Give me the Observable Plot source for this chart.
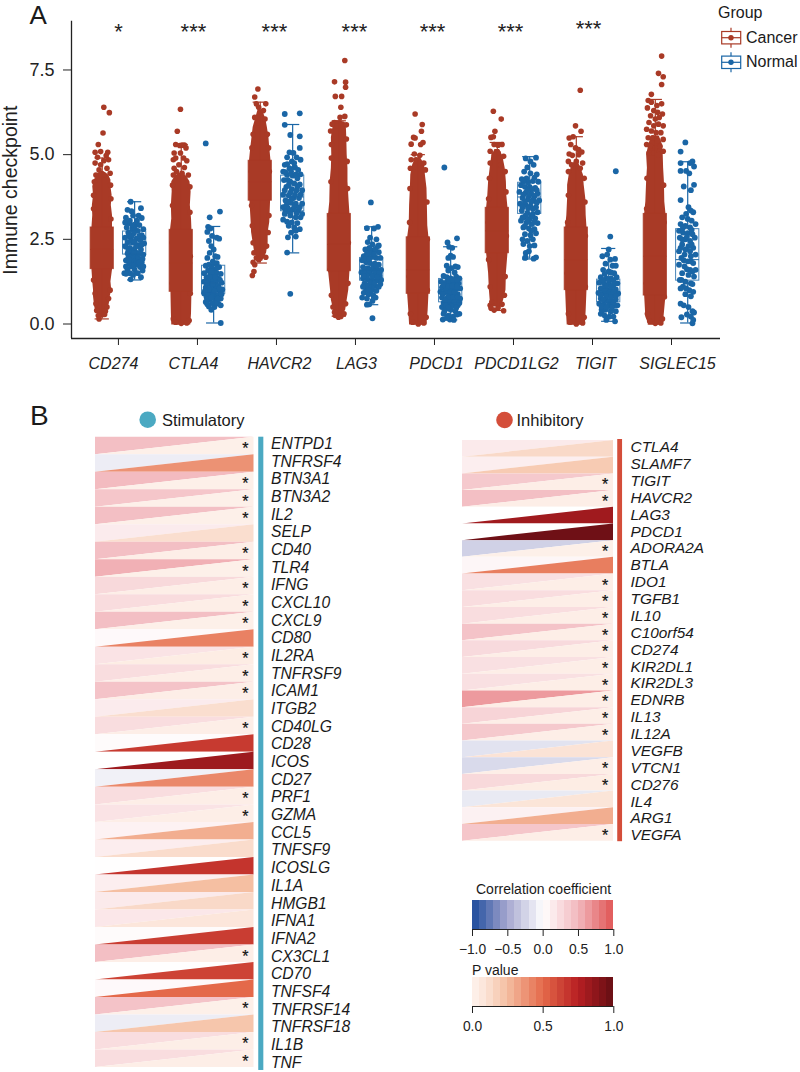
<!DOCTYPE html>
<html>
<head>
<meta charset="utf-8">
<script src="https://cdn.jsdelivr.net/npm/d3@7"></script>
<script src="https://cdn.jsdelivr.net/npm/@observablehq/plot@0.6"></script>
<style>
html,body{margin:0;padding:0;background:#fff;}
#page{position:relative;width:800px;height:1072px;overflow:hidden;font-family:"Liberation Sans",Arial,sans-serif;color:#1a1a1a;}
#page>svg,#page>div.p{position:absolute;}
.t{position:absolute;white-space:nowrap;line-height:1;}
</style>
</head>
<body>
<div id="page">
  <div class="t" style="left:29.5px;top:1.6px;font-size:26px;">A</div>
  <div class="t" style="left:30px;top:402px;font-size:28px;">B</div>
  <div class="t" style="left:718px;top:5px;font-size:16px;">Group</div>
  <div class="t" style="left:746px;top:29.5px;font-size:16px;">Cancer</div>
  <div class="t" style="left:746px;top:54px;font-size:16px;">Normal</div>
  <svg style="left:715px;top:22px" width="30" height="52" id="keys"></svg>
  <svg style="left:137px;top:409px" width="22" height="22"><circle cx="10.7" cy="10.7" r="8.3" fill="#4ba9c2"/></svg>
  <div class="t" style="left:162px;top:411.5px;font-size:16.5px;">Stimulatory</div>
  <svg style="left:494px;top:409px" width="22" height="22"><circle cx="10.5" cy="11" r="8.3" fill="#d44e3a"/></svg>
  <div class="t" style="left:516.5px;top:412px;font-size:16.5px;">Inhibitory</div>
  <div class="t" style="left:476px;top:882px;font-size:14px;">Correlation coefficient</div>
  <div class="t" style="left:472px;top:963px;font-size:14px;">P value</div>
</div>
<script>
const genes = ["CD274","CTLA4","HAVCR2","LAG3","PDCD1","PDCD1LG2","TIGIT","SIGLEC15"];
const geneStars = ["*","***","***","***","***","***","***",""];
const labelNudge = [-5,-4,3,1,2,3,3,6];
const starNudge = [0,-4,-2,-1,-2,-3,-4,0];

// Box statistics: [low whisker, Q1, median, Q3, high whisker]
const boxCancer = [[0.15,1.62,2.2,2.85,4.9],[0,0.95,1.8,2.78,5.3],[1.8,3.64,4.2,4.82,6.55],[0.23,1.56,2.35,3.25,6.0],[0,0.89,1.6,2.56,5.0],[0.4,2.09,2.75,3.43,5.36],[0,1.0,1.9,2.85,5.53],[0,0.84,2.0,3.25,6.63]];
const boxNormal = [[1.3,2.05,2.35,2.73,3.61],[0.03,0.89,1.2,1.72,2.88],[2.1,3.33,3.75,4.38,5.89],[0.57,1.28,1.6,1.95,2.87],[0.12,0.64,1.0,1.33,2.28],[1.92,3.25,3.75,4.17,4.94],[0.08,0.64,0.95,1.31,2.23],[0.03,1.28,1.9,2.8,4.79]];

// Saturated core of each cancer cloud, too dense to read single points:
// [value, left half width, right half width], widths in hundredths of a category step
const coreCD274 = [[0.18,2,2],[0.3,6,5],[0.45,9,7],[0.6,10,9],[0.8,11,10],[1,11,12],[1.25,12,11],[1.6,13,13],[2.85,13,13],[3.2,12,13],[3.5,12.5,11.5],[3.8,11,12.5],[4.05,12,11],[4.25,10,11],[4.4,6,8],[4.5,3,2]];
const coreCTLA4 = [[-0.03,12,12],[0.3,12.5,13],[0.9,13,13.5],[2.8,13.5,13.5],[3.1,12,13],[3.5,12.5,11.5],[3.9,11.5,12.5],[4.2,12,11],[4.35,8,7],[4.45,3,3]];
const coreHAVCR2 = [[1.85,3,3],[2.1,7,8],[2.4,9,10],[2.7,11,10],[3.0,11.5,12],[3.6,13,13],[4.85,13.5,13.5],[5.2,12,12],[5.5,10.5,11],[5.8,9,9],[6.05,6,7],[6.3,3,3]];
const coreLAG3 = [[0.25,3,3],[0.4,7,8],[0.7,10,10],[1.0,11,12],[1.55,13.5,13.5],[3.25,13.5,13.5],[3.6,12,12.5],[4.2,11.5,11],[4.6,10,11],[5.0,9.5,10],[5.5,10,9.5],[5.8,8,9],[6.0,4,3]];
const corePDCD1 = [[-0.03,11,11],[0.4,12,12.5],[0.9,13.5,13.5],[2.55,13.5,13.5],[2.9,11.5,12],[3.5,11,11.5],[4,10,11],[4.4,9.5,9],[4.7,7,8],[4.9,3,3]];
const corePDCD1LG2 = [[0.5,5,5],[0.7,9,8],[1,10,11],[1.5,11,11.5],[2.08,13.5,13.5],[3.43,13.5,13.5],[3.8,12,12],[4.2,11,11.5],[4.6,9,10],[4.95,7,7],[5.15,3,3]];
const coreTIGIT = [[-0.03,11.5,11.5],[0.4,12.5,12.5],[1,13.5,13.5],[2.85,13.5,13.5],[3.2,12,12.5],[3.7,11,12],[4.1,11,10],[4.4,9,9],[4.65,6,5],[4.8,2,2]];
const coreSIGLEC15 = [[-0.03,8,8],[0.2,12,11],[0.84,13.5,13.5],[3.25,13.5,13.5],[3.6,12,12],[4.2,11,11.5],[4.6,10,10.5],[5.0,11,10],[5.3,8,9],[5.55,5,5]];

// Individually readable cancer points: [jitter in hundredths of a step, value]
const dotsCD274C = [[2,6.4],[9,6.24],[1,5.64],[-5,5.3],[-9,5.07],[-2,5.09],[7,5.07],[5,4.97],[-6,4.92],[2,4.82],[8,4.85],[-9,4.75],[-2,4.7],[6,4.6],[-4,4.55],[10,4.45],[-8,4.4],[-10,4.2],[10.5,4.1],[2,4.4],[-11,3.8],[11,3.7],[-11,3.4],[11,3.1],[-11,1.3],[10,1.0],[-9,0.9],[8,0.75],[-8,0.6],[6,0.5],[-7,0.4],[4,0.38],[-5,0.25],[-4,0.15],[3,0.28]];
const dotsCTLA4C = [[-1,6.34],[-5,5.69],[-7,5.3],[4,5.28],[-2,5.27],[1,5.28],[-9,5.05],[-1,5.05],[6,5.2],[-10,4.85],[3,4.9],[7,4.82],[-7,4.9],[-9,4.6],[-3,4.7],[4,4.62],[-6,4.5],[-10,4.4],[1,4.45],[9,4.4],[-11,4.1],[11,4.05],[-11,3.5],[11,3.3],[-11.5,2.4],[11.5,2.0],[-11.5,1.2],[11.5,0.9],[-10,0.15],[-7,0.05],[0,0.02],[7,0.03],[10,0.1]];
const dotsHAVCR2C = [[-3,6.94],[-7,6.7],[7,6.5],[-5,6.5],[-2,6.4],[4,6.3],[-7,6.1],[-3,5.95],[6,6.05],[-9,5.6],[9,5.6],[-10.5,5.2],[10.5,5.2],[-11.5,4.5],[11.5,4.5],[-11,3.5],[11,3.2],[-10,2.9],[10,2.7],[-9,2.4],[8,2.3],[-8,2.1],[-5,1.95],[7,1.97],[-9,1.82],[-7,1.75],[-2,1.9],[-8,1.55],[-10,1.43]];
const dotsLAG3C = [[7,7.78],[-6,7.15],[8,7.14],[8,6.99],[-5,6.72],[3,6.72],[2,6.4],[7,6.13],[1,6.1],[-6,5.95],[-9,5.9],[-2,5.85],[4,5.9],[9,5.88],[-11,5.7],[9,5.46],[-10,5.3],[-10,4.9],[10,4.8],[-10.5,4.2],[10.5,4.0],[-11.5,3.2],[11.5,2.4],[-11.5,1.6],[11,1.2],[-10,0.85],[-8,0.5],[8,0.6],[-6,0.35],[2,0.22],[-5,0.25],[6,0.3],[-1,0.2]];
const dotsPDCD1C = [[-4,6.2],[5,5.89],[4,5.69],[-6,5.51],[-4,5.49],[-9,5.31],[6,5.36],[3,5.3],[-5,5.02],[2,4.98],[-9,4.85],[7,4.75],[-3,4.85],[-10,4.6],[4,4.6],[9,4.55],[-4,4.65],[-10.5,4],[11,3.6],[-11,3],[11.5,2.5],[-11.5,1.4],[11.5,1],[-10,0.3],[-7,0.05],[0,0],[7,0.03],[10,0.2]];
const dotsPDCD1LG2C = [[-5,6.28],[5,6.05],[-3,5.69],[-8,5.51],[-5,5.53],[-4,5.3],[6,5.3],[1,5.28],[-9,5.1],[1,5.05],[8,4.95],[-4,5.0],[-9,4.75],[4,4.7],[10,4.5],[-10,4.3],[11,3.9],[-11,3.7],[-11.5,3],[11.5,2.6],[-11,1.9],[10,1.4],[-9,1.1],[9,0.85],[-9,0.55],[-8,0.47],[-4,0.41],[8,0.39],[1,0.48],[-7,0.65],[6,0.58]];
const dotsTIGITC = [[5,6.9],[-1,5.85],[6,5.69],[-4,5.53],[-9,5.49],[-7,5.3],[-1,5.2],[7,5.08],[3,5.15],[-9,5.02],[3,5.0],[-5,4.98],[-10,4.8],[8,4.75],[0,4.8],[-6,4.7],[5,4.6],[-10,4.5],[10,4.3],[-10,3.8],[11,3.6],[-11,3],[11.5,2.6],[-11.5,1.5],[11.5,1.1],[-10,0.3],[-8,0.05],[0,0],[8,0.03],[10,0.2]];
const dotsSIGLEC15C = [[8,7.91],[4,7.4],[10,7.3],[8,7.07],[-5,6.78],[-9,6.6],[-5,6.55],[2,6.45],[8,6.5],[-10,6.38],[-2,6.3],[3,6.25],[9,6.2],[-6,6.15],[0,6.05],[5,6.1],[-8,5.95],[-2,5.85],[4,5.9],[10,5.85],[-11,5.75],[-5,5.7],[1,5.65],[7,5.65],[-9,5.5],[-3,5.5],[3,5.4],[10,5.45],[-11,5.3],[-6,5.25],[0,5.2],[6,5.25],[-8,5.05],[-2,5.05],[4,5.0],[10,5.1],[-10.5,4.3],[10.5,4.1],[-11,3.4],[11,3],[-11.5,1.2],[11.5,0.8],[-10,0.3],[-7,0.08],[0,0.02],[7,0.03],[9,0.15]];

// Normal points: [jitter in hundredths of a step, value]
const dotsCD274N = [[-5,3.61],[-9,3.37],[-4,3.33],[8,3.42],[-11,3.14],[-2,3.2],[9,3.13],[3,3.05],[-7,2.98],[1,2.95],[6,2.92],[-10,2.85],[-3,2.8],[11,2.8],[4,2.75],[-8,2.7],[-1,2.68],[9,2.62],[-12,2.55],[-5,2.55],[2,2.52],[7,2.48],[-9,2.42],[-2,2.4],[12,2.38],[4,2.33],[-11,2.28],[-6,2.25],[0,2.22],[8,2.2],[-3,2.12],[3,2.1],[-9,2.08],[11,2.05],[-6,1.98],[1,1.95],[6,1.92],[-11,1.88],[-2,1.85],[9,1.82],[-7,1.78],[3,1.75],[-4,1.7],[7,1.68],[-9,1.62],[0,1.6],[10,1.58],[-13,1.5],[-6,1.5],[4,1.5],[-2,1.45],[8,1.38],[-5,1.32],[-11,1.48],[-4,2.6],[5,2.3],[-8,2.15],[2,1.85],[-12,3.0],[-6,3.05],[5,3.2],[-7,2.62],[0,2.85],[6,2.6],[11,2.55],[-4,2.45],[-12,2.3],[2,2.3],[9,2.35],[-8,1.95],[-4,2.0],[4,1.98],[10,1.92],[-1,2.1],[6,2.08],[-7,1.9],[-1,1.72],[6,1.82],[11,1.7],[-11,1.7],[0,2.42],[-3,2.92]];
const dotsCTLA4N = [[-10,5.33],[8,3.32],[-5,3.15],[-7,2.87],[-4,2.82],[-8,2.72],[-2,2.6],[4,2.55],[7,2.52],[-6,2.45],[-3,2.3],[0,2.2],[-5,2.1],[2,2.0],[5,1.98],[-8,1.95],[-1,1.85],[4,1.8],[-10,1.72],[-3,1.7],[7,1.68],[1,1.6],[-7,1.58],[-12,1.5],[-4,1.5],[4,1.5],[9,1.48],[0,1.42],[-9,1.38],[6,1.35],[-2,1.3],[-12,1.25],[3,1.25],[10,1.22],[-6,1.18],[0,1.15],[6,1.12],[-10,1.08],[-3,1.05],[3,1.02],[11,1.02],[-7,0.98],[8,0.95],[0,0.92],[-12,0.9],[-4,0.88],[5,0.85],[-9,0.8],[1,0.78],[9,0.75],[-5,0.72],[3,0.68],[-10,0.65],[-2,0.62],[6,0.6],[9,0.55],[-6,0.52],[1,0.5],[-3,0.42],[9,0.03],[-7,1.25],[8,1.3],[-2,0.95],[4,1.1],[-5,1.4],[2,1.38],[-9,1.2],[-1,1.18],[7,1.05],[-6,1.02],[1,0.98],[-11,0.98],[10,0.88],[-7,0.85],[-1,0.82],[5,0.75],[-8,0.72],[-3,0.78],[2,0.62],[-8,0.58],[-3,1.55],[4,1.65],[-6,1.75],[1,1.78]];
const dotsHAVCR2N = [[-10,6.2],[9,6.22],[-10,5.88],[-3,5.58],[9,5.54],[9,5.2],[-4,5.07],[1,5.05],[-7,4.92],[5,4.92],[10,4.85],[-1,4.8],[-10,4.7],[-4,4.6],[3,4.62],[-12,4.5],[-7,4.4],[0,4.38],[10,4.42],[6,4.3],[-11,4.25],[-3,4.2],[2,4.15],[9,4.12],[-8,4.05],[-1,3.98],[5,3.95],[12,3.95],[-12,3.82],[-5,3.8],[1,3.72],[8,3.72],[-9,3.65],[-2,3.58],[4,3.55],[12,3.55],[-12,3.45],[-6,3.42],[0,3.38],[7,3.35],[-10,3.25],[-3,3.2],[4,3.15],[10,3.15],[-12,3.08],[-7,3.02],[-1,3.0],[6,2.98],[-5,2.9],[2,2.85],[9,2.8],[-2,2.7],[4,2.75],[-6,2.56],[4,2.58],[-7,2.11],[-3,0.89],[-6,4.25],[4,4.42],[-9,4.48],[-2,4.5],[7,4.55],[-7,4.72],[2,4.75],[-5,4.1],[6,4.05],[-10,3.95],[-3,3.88],[3,3.82],[10,3.82],[-8,3.5],[-1,3.7],[-6,3.62],[2,3.45],[9,3.45],[-9,3.32],[-4,3.32],[5,3.28],[12,3.25]];
const dotsLAG3N = [[-1,3.59],[8,2.87],[-6,2.83],[3,2.82],[-2,2.55],[6,2.5],[-5,2.42],[1,2.35],[8,2.3],[-8,2.2],[3,2.18],[-2,2.12],[9,2.12],[-10,2.0],[-5,1.98],[1,1.98],[6,1.95],[11,1.95],[-12,1.88],[-7,1.82],[-2,1.8],[4,1.78],[9,1.75],[-11,1.68],[-5,1.65],[1,1.62],[7,1.6],[12,1.6],[-13,1.52],[-8,1.5],[-2,1.48],[4,1.45],[10,1.42],[-11,1.35],[-5,1.32],[1,1.3],[7,1.28],[12,1.3],[-9,1.2],[-3,1.15],[4,1.12],[9,1.1],[-7,1.02],[0,1.0],[6,0.98],[-10,0.92],[-4,0.88],[2,0.85],[-12,0.78],[-6,0.75],[5,0.78],[-3,0.58],[-6,0.57],[1,0.68],[1,0.17],[-3,2.25],[5,2.22],[9,2.32],[-6,2.08],[3,2.05],[-9,1.92],[-3,1.92],[2,1.7],[6,1.72],[-8,1.62],[-3,1.58],[4,1.55],[10,1.52],[-6,1.42],[1,1.42],[-10,1.42],[7,1.38],[-2,1.22],[3,1.2],[-6,1.12],[-11,1.1],[11,1.18],[0,1.08],[-4,1.0]];
const dotsPDCD1N = [[-8,4.62],[8,2.53],[-4,2.41],[-2,2.28],[2,2.25],[0,2.02],[-3,1.95],[3,1.98],[-5,1.72],[6,1.7],[9,1.68],[1,1.65],[-3,1.58],[5,1.52],[-9,1.42],[-5,1.38],[0,1.35],[7,1.4],[11,1.35],[-12,1.25],[-6,1.22],[-1,1.2],[4,1.18],[10,1.2],[-11,1.08],[-5,1.05],[1,1.02],[6,1.02],[12,1.05],[-13,0.95],[-8,0.92],[-2,0.88],[3,0.85],[9,0.88],[-11,0.78],[-5,0.75],[1,0.72],[7,0.72],[12,0.75],[-9,0.62],[-3,0.6],[4,0.58],[9,0.55],[-11,0.5],[-6,0.45],[0,0.42],[6,0.38],[11,0.3],[-9,0.3],[-3,0.25],[3,0.22],[8,0.28],[-10,0.13],[-1,0.13],[-5,0.18],[4,0.12],[-2,1.28],[3,1.3],[8,1.3],[-9,1.15],[-3,1.12],[2,1.12],[8,1.1],[-6,0.98],[0,0.95],[5,0.95],[-10,0.88],[-3,0.8],[3,0.78],[9,0.8],[-7,0.7],[-1,0.65],[5,0.65],[11,0.62],[-6,0.55],[1,0.52],[7,0.48],[-3,0.48],[-8,0.38]];
const dotsPDCD1LG2N = [[-5,4.89],[8,4.91],[1,4.8],[-3,4.62],[5,4.7],[-7,4.5],[1,4.45],[9,4.42],[-10,4.28],[-4,4.3],[4,4.22],[11,4.2],[-11,4.1],[-6,4.05],[0,4.05],[7,4.02],[-13,3.9],[-5,3.88],[2,3.85],[10,3.85],[-9,3.72],[-2,3.68],[5,3.68],[12,3.65],[-12,3.55],[-5,3.52],[1,3.48],[8,3.45],[-10,3.35],[-3,3.28],[4,3.25],[10,3.3],[-7,3.15],[0,3.1],[7,3.12],[-11,3.05],[-4,3.0],[3,2.95],[10,2.98],[-8,2.85],[-1,2.82],[6,2.8],[-6,2.65],[1,2.62],[8,2.68],[-9,2.5],[-3,2.45],[4,2.5],[6,2.32],[-8,2.36],[0,2.3],[-5,2.1],[-1,2.15],[-6,1.95],[-5,1.97],[8,1.97],[5,1.93],[-2,4.18],[6,4.32],[-8,4.2],[3,3.98],[-3,3.95],[9,3.95],[-8,3.82],[-1,3.78],[6,3.78],[-6,3.62],[2,3.6],[9,3.58],[-9,3.45],[-2,3.42],[4,3.4],[-5,3.2],[2,3.18],[-9,3.15],[-2,3.05],[6,3.02],[-6,2.9],[2,2.75]];
const dotsTIGITN = [[9,4.51],[2,2.58],[0,2.2],[-2,2.05],[-8,2.0],[8,1.92],[2,1.9],[-4,1.78],[5,1.72],[9,1.72],[-7,1.6],[0,1.55],[7,1.5],[-10,1.38],[-3,1.35],[3,1.35],[10,1.38],[-12,1.22],[-6,1.2],[0,1.18],[6,1.15],[11,1.2],[-10,1.05],[-3,1.02],[3,1.0],[9,1.02],[-13,0.92],[-7,0.9],[0,0.88],[6,0.85],[12,0.9],[-10,0.75],[-3,0.72],[3,0.7],[9,0.72],[-12,0.6],[-6,0.58],[1,0.55],[7,0.55],[11,0.55],[-9,0.42],[-4,0.42],[3,0.38],[9,0.38],[-10,0.3],[-5,0.25],[1,0.22],[6,0.22],[8,0.08],[-3,0.12],[-8,0.4],[-5,1.48],[3,1.52],[-8,1.3],[0,1.3],[6,1.28],[-3,1.12],[3,1.1],[-8,1.05],[-5,0.98],[1,0.95],[6,0.95],[-10,0.85],[-3,0.82],[3,0.8],[9,0.82],[-7,0.72],[0,0.65],[6,0.62],[-9,0.52],[-3,0.5],[4,0.48]];
const dotsSIGLEC15N = [[-3,5.36],[-9,5.09],[-9,4.75],[3,4.75],[8,4.65],[6,4.8],[-9,4.52],[-2,4.52],[2,4.45],[8,4.11],[-5,4.06],[4,3.95],[-9,3.66],[1,3.45],[4,3.35],[-2,3.25],[7,3.3],[-7,3.15],[0,3.1],[5,3.05],[-9,2.95],[-3,2.9],[3,2.85],[10,2.95],[-11,2.75],[-6,2.7],[0,2.68],[6,2.65],[-10,2.55],[-3,2.5],[3,2.45],[9,2.55],[-7,2.35],[1,2.3],[7,2.25],[-11,2.15],[-4,2.05],[4,2.0],[10,2.05],[-8,1.95],[0,1.85],[7,1.8],[-11,1.75],[-4,1.7],[3,1.6],[10,1.6],[-7,1.5],[1,1.45],[8,1.4],[-10,1.3],[-3,1.25],[4,1.2],[-6,1.1],[2,1.0],[7,0.95],[-3,0.88],[4,0.82],[-9,0.6],[-5,0.55],[1,0.5],[6,0.38],[8,0.34],[-8,0.2],[4,0.22],[7,0.12],[6,0.02],[-1,0.28],[-6,2.85],[5,2.78],[-1,2.58],[-7,2.5],[5,2.35],[-3,2.2],[-9,2.25],[3,2.15],[-5,1.88],[4,1.85],[-1,1.62],[6,1.55],[-8,1.3],[-2,1.05],[6,1.18],[-9,1.05]];

const coreByGene = [coreCD274,coreCTLA4,coreHAVCR2,coreLAG3,corePDCD1,corePDCD1LG2,coreTIGIT,coreSIGLEC15];
const dotsCancer = [dotsCD274C,dotsCTLA4C,dotsHAVCR2C,dotsLAG3C,dotsPDCD1C,dotsPDCD1LG2C,dotsTIGITC,dotsSIGLEC15C];
const dotsNormal = [dotsCD274N,dotsCTLA4N,dotsHAVCR2N,dotsLAG3N,dotsPDCD1N,dotsPDCD1LG2N,dotsTIGITN,dotsSIGLEC15N];

const stimGenes = ["ENTPD1","TNFRSF4","BTN3A1","BTN3A2","IL2","SELP","CD40","TLR4","IFNG","CXCL10","CXCL9","CD80","IL2RA","TNFRSF9","ICAM1","ITGB2","CD40LG","CD28","ICOS","CD27","PRF1","GZMA","CCL5","TNFSF9","ICOSLG","IL1A","HMGB1","IFNA1","IFNA2","CX3CL1","CD70","TNFSF4","TNFRSF14","TNFRSF18","IL1B","TNF"];
const stimCor = [0.45,-0.1,0.48,0.4,0.45,0.14,0.45,0.54,0.27,0.25,0.45,0.04,0.2,0.24,0.42,0.14,0.24,0.03,0,-0.08,0.24,0.2,0.09,0.13,0.01,0.12,0.15,0.17,0.03,0.45,0.01,0.04,0.42,-0.1,0.24,0.24];
const stimP = [0.02,0.38,0.02,0.02,0.02,0.12,0.03,0.02,0.03,0.03,0.02,0.43,0.04,0.03,0.03,0.12,0.03,0.66,0.83,0.41,0.03,0.03,0.3,0.13,0.68,0.25,0.14,0.08,0.65,0.03,0.63,0.5,0.02,0.22,0.03,0.03];
const inhGenes = ["CTLA4","SLAMF7","TIGIT","HAVCR2","LAG3","PDCD1","ADORA2A","BTLA","IDO1","TGFB1","IL10","C10orf54","CD274","KIR2DL1","KIR2DL3","EDNRB","IL13","IL12A","VEGFB","VTCN1","CD276","IL4","ARG1","VEGFA"];
const inhCor = [0.15,0.12,0.38,0.45,0,0,-0.26,0.06,0.22,0.24,0.24,0.42,0.26,0.22,0.22,0.65,0.3,0.38,-0.16,-0.21,0.27,-0.12,0.1,0.4];
const inhP = [0.14,0.2,0.03,0.03,0.82,0.97,0.02,0.44,0.03,0.03,0.03,0.03,0.03,0.03,0.03,0.03,0.03,0.03,0.1,0.03,0.04,0.09,0.3,0.03];
const stimFlag = [1,0,1,1,1,0,1,1,1,1,1,0,1,1,1,0,1,0,0,0,1,1,0,0,0,0,0,0,0,1,0,0,1,0,1,1];
const inhFlag = [0,0,1,1,0,0,1,0,1,1,1,1,1,1,1,1,1,1,0,1,1,0,0,1];

const CANCER = "#a93a26", NORMAL = "#1a66a6";
const font = '"Liberation Sans",Arial,sans-serif';
const corColor = d3.scaleLinear().domain([-1,-0.5,0,0.5,1]).range(["#1b4a9b","#a5a6cf","#ffffff","#f2b8bd","#e05555"]);
const pColor = d3.scaleLinear().domain([0,0.1,0.25,0.5,0.75,1]).range(["#fef3ee","#fbe3d6","#f5bfa2","#e4694a","#b71f22","#650e14"]);
const page = document.getElementById("page");
function place(el,left,top){el.style.position="absolute";el.style.left=left+"px";el.style.top=top+"px";el.style.background="transparent";page.appendChild(el);}

// ---------- Panel A ----------
const side = {Cancer:-0.205, Normal:0.205};
const coreRows = coreByGene.flatMap((rows,i)=>rows.map(([v,l,r])=>({i,v,x1:i+side.Cancer-l/100,x2:i+side.Cancer+r/100})));
const pts = g => (g==="Cancer"?dotsCancer:dotsNormal).flatMap((rows,i)=>rows.map(([j,v])=>({x:i+side[g]+j/100,v})));
const boxes = g => (g==="Cancer"?boxCancer:boxNormal).map((b,i)=>({x:i+side[g],lo:b[0],q1:b[1],med:b[2],q3:b[3],hi:b[4]}));
const boxMarks = (g,color,boxFill)=>{
  const b=boxes(g);
  return [
    Plot.ruleX(b,{x:"x",y1:"lo",y2:"q1",stroke:color,strokeWidth:1.2}),
    Plot.ruleX(b,{x:"x",y1:"q3",y2:"hi",stroke:color,strokeWidth:1.2}),
    Plot.ruleY(b,{y:"lo",x1:d=>d.x-0.09,x2:d=>d.x+0.09,stroke:color,strokeWidth:1.2}),
    Plot.ruleY(b,{y:"hi",x1:d=>d.x-0.09,x2:d=>d.x+0.09,stroke:color,strokeWidth:1.2}),
    Plot.rect(b,{x1:d=>d.x-0.147,x2:d=>d.x+0.147,y1:"q1",y2:"q3",stroke:color,strokeWidth:1,strokeOpacity:0.8,fill:boxFill}),
    Plot.ruleY(b,{y:"med",x1:d=>d.x-0.147,x2:d=>d.x+0.147,stroke:color,strokeWidth:1})
  ];
};
const A = Plot.plot({
  width:800,height:375,marginTop:20.7,marginBottom:37,marginLeft:71,marginRight:80,
  style:{fontFamily:font,background:"transparent"},
  x:{domain:[-0.594,7.62],axis:null},
  y:{domain:[-0.428,8.94],axis:null},
  marks:[
    Plot.areaX(coreRows,{y:"v",x1:"x1",x2:"x2",z:"i",fill:CANCER,curve:"linear"}),
    Plot.dot(pts("Cancer"),{x:"x",y:"v",r:2.8,fill:CANCER}),
    Plot.dot(pts("Normal"),{x:"x",y:"v",r:2.9,fill:NORMAL}),
    ...boxMarks("Cancer",CANCER,CANCER),
    ...boxMarks("Normal",NORMAL,"none"),
    Plot.ruleX([-0.594],{stroke:"#222",strokeWidth:1.3}),
    Plot.ruleY([-0.428],{stroke:"#222",strokeWidth:1.3}),
    Plot.axisY({ticks:[0,2.5,5,7.5],tickFormat:d3.format(".1f"),tickSize:8,fontSize:18,tickPadding:9,label:null,stroke:"#222",fill:"#222"}),
    Plot.axisX({ticks:d3.range(genes.length),tickFormat:()=>"",tickSize:7,label:null,stroke:"#222"}),
    Plot.text(genes,{x:(d,i)=>i+labelNudge[i]/79,y:-0.428,text:d=>d,dy:25,fontSize:16,fontStyle:"italic",fill:"#222"}),
    Plot.text(geneStars,{x:(d,i)=>i+starNudge[i]/79,y:(d,i)=>i===6?8.72:8.62,text:d=>d,fontSize:22,fill:"#222"}),
    Plot.text(["Immune checkpoint"],{x:-0.594,y:3.95,text:d=>d,rotate:-90,dx:-61,fontSize:19.5,fill:"#222"})
  ]
});
place(A,0,0);

// ---------- Panel B ----------
function triangles(cor,p){
  return cor.flatMap((c,i)=>[
    {id:"c"+i,x:0,y1:i,y2:i+1,f:corColor(c)},
    {id:"c"+i,x:1,y1:i,y2:i,f:corColor(c)},
    {id:"p"+i,x:0,y1:i+1,y2:i+1,f:pColor(p[i])},
    {id:"p"+i,x:1,y1:i,y2:i+1,f:pColor(p[i])}
  ]);
}
function panel(names,cor,p,flag,o){
  return Plot.plot({
    width:800,height:o.height,marginTop:o.top,marginBottom:o.bottom,marginLeft:o.left,marginRight:800-o.right,
    style:{fontFamily:font,background:"transparent"},
    x:{domain:[0,1],axis:null},
    y:{domain:[names.length,0],axis:null},
    marks:[
      Plot.areaY(triangles(cor,p),{x:"x",y1:"y1",y2:"y2",z:"id",fill:"f",curve:"linear"}),
      Plot.rect([0],{x1:o.bar[0],x2:o.bar[1],y1:o.barY[0],y2:o.barY[1],fill:o.barColor}),
      Plot.text(names,{x:o.labelX,y:(d,i)=>o.labelY0+i*o.labelStep,text:d=>d,textAnchor:"start",fontSize:o.labelSize,fontStyle:"italic",fill:"#1a1a1a"}),
      Plot.text(names.filter((d,i)=>flag[i]),{x:o.starX,y:d=>names.indexOf(d)+0.5,text:()=>"*",fontSize:16,dy:3,fill:"#111",stroke:"#111",strokeWidth:0.25})
    ]
  });
}
const stim = panel(stimGenes,stimCor,stimP,stimFlag,{height:672,top:36.7,bottom:5,left:95,right:253.5,bar:[1.03,1.062],barY:[0,36.17],barColor:"#4ba9c2",labelX:1.107,labelY0:0.38,labelStep:1.0097,labelSize:15.7,starX:0.945});
place(stim,0,400);
const inh = panel(inhGenes,inhCor,inhP,inhFlag,{height:450,top:40,bottom:9.3,left:462,right:613,bar:[1.028,1.06],barY:[-0.06,24.03],barColor:"#d44e3a",labelX:1.113,labelY0:0.4,labelStep:1.011,labelSize:15.4,starX:0.945});
place(inh,0,400);

// ---------- Colour bars ----------
const corBins = d3.range(20).map(i=>-1+i*0.1);
const pBins = d3.range(20).map(i=>i*0.05);
function colorbar(bins,w,color,ticks,fmt){
  return Plot.plot({
    width:220,height:60,marginTop:0,marginBottom:31,marginLeft:32,marginRight:46.7,
    style:{fontFamily:font,background:"transparent"},
    x:{domain:[bins[0],bins[bins.length-1]+w],axis:null},
    y:{domain:[0,1],axis:null},
    marks:[
      Plot.rect(bins,{x1:d=>d,x2:d=>d+w,y1:0,y2:1,fill:d=>color(d+w/2),shapeRendering:"crispEdges"}),
      Plot.ruleY([0],{stroke:"#222",strokeWidth:1.2}),
      Plot.axisX({ticks,tickFormat:fmt,tickSize:7,fontSize:13.8,tickPadding:8,label:null,stroke:"#222",fill:"#222"})
    ]
  });
}
const minus = d3.formatLocale({minus:"\u2212",decimal:".",thousands:"",grouping:[3],currency:["",""]}).format(".1f");
place(colorbar(corBins,0.1,corColor,[-1,-0.5,0,0.5,1],minus),440,900);
place(colorbar(pBins,0.05,pColor,[0,0.5,1],d3.format(".1f")),440,977);

// ---------- Group legend keys ----------
const keys = d3.select("#keys");
[[CANCER,15.7],[NORMAL,40.3]].forEach(([c,y])=>{
  const g=keys.append("g").attr("stroke",c).attr("fill","none").attr("stroke-width",1.2);
  g.append("line").attr("x1",16).attr("x2",16).attr("y1",y-10).attr("y2",y+10);
  g.append("rect").attr("x",6.7).attr("width",19).attr("y",y-6.2).attr("height",12.4).attr("fill","#fff");
  g.append("line").attr("x1",6.7).attr("x2",25.7).attr("y1",y).attr("y2",y);
  keys.append("circle").attr("cx",16).attr("cy",y).attr("r",2.7).attr("fill",c);
});
</script>
</body>
</html>
